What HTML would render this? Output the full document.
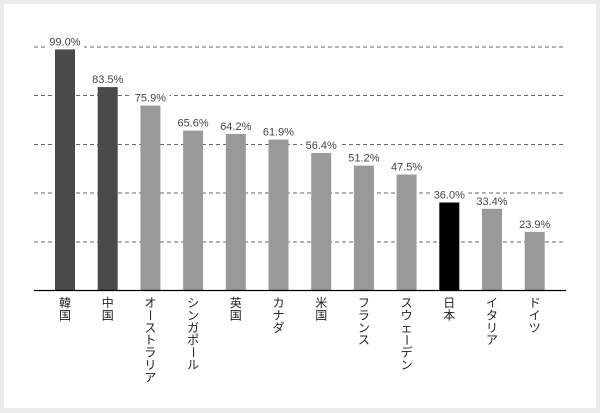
<!DOCTYPE html>
<html><head><meta charset="utf-8"><style>
html,body{margin:0;padding:0;background:#ececec;}
svg{display:block;}
</style></head><body>
<svg width="600" height="413" xmlns="http://www.w3.org/2000/svg" font-family="Liberation Sans, sans-serif">
<rect x="0" y="0" width="600" height="413" fill="#ececec"/>
<rect x="4" y="4" width="592" height="404" fill="#fff"/>
<g stroke="#666" stroke-width="1" stroke-dasharray="4,3">
<line x1="34" y1="47" x2="566" y2="47"/>
<line x1="34" y1="95.5" x2="566" y2="95.5"/>
<line x1="34" y1="144.5" x2="566" y2="144.5"/>
<line x1="34" y1="193" x2="566" y2="193"/>
<line x1="34" y1="242" x2="566" y2="242"/>
</g>
<g id="bars"></g>
<line x1="34" y1="290.5" x2="566" y2="290.5" stroke="#000" stroke-width="1.2"/>
<g font-size="11" fill="#444" text-anchor="middle" id="vals"></g>
<g font-size="12" fill="#222" text-anchor="middle" font-family="Noto Sans CJK JP, sans-serif" id="labs"></g>
<script>
var d=[["韓国",99.0,"#4a4a4a"],["中国",83.5,"#4a4a4a"],["オーストラリア",75.9,"#999"],["シンガポール",65.6,"#999"],["英国",64.2,"#999"],["カナダ",61.9,"#999"],["米国",56.4,"#999"],["フランス",51.2,"#999"],["スウェーデン",47.5,"#999"],["日本",36.0,"#000"],["イタリア",33.4,"#999"],["ドイツ",23.9,"#999"]];
var ns="http://www.w3.org/2000/svg",b=document.getElementById("bars"),v=document.getElementById("vals"),l=document.getElementById("labs");
d.forEach(function(e,i){var cx=65+i*42.7,h=e[1]*2.43,y=290-h;
var r=document.createElementNS(ns,"rect");r.setAttribute("x",cx-10);r.setAttribute("y",y);r.setAttribute("width",20);r.setAttribute("height",h);r.setAttribute("fill",e[2]);b.appendChild(r);
var bg=document.createElementNS(ns,"rect");bg.setAttribute("x",cx-19);bg.setAttribute("y",y-14);bg.setAttribute("width",38);bg.setAttribute("height",12);bg.setAttribute("fill","#fff");v.appendChild(bg);
var t=document.createElementNS(ns,"text");t.setAttribute("x",cx);t.setAttribute("y",y-4);t.textContent=e[1].toFixed(1)+"%";v.appendChild(t);
Array.from(e[0]).forEach(function(c,j){var yy=307+j*12.4;var tt=document.createElementNS(ns,"text");tt.setAttribute("x",cx);tt.setAttribute("y",yy);tt.textContent=c;
if(c=="ー"){tt.setAttribute("transform","rotate(90 "+cx+" "+(yy-4.3)+")");}
l.appendChild(tt);});});
</script>
</svg>
</body></html>
